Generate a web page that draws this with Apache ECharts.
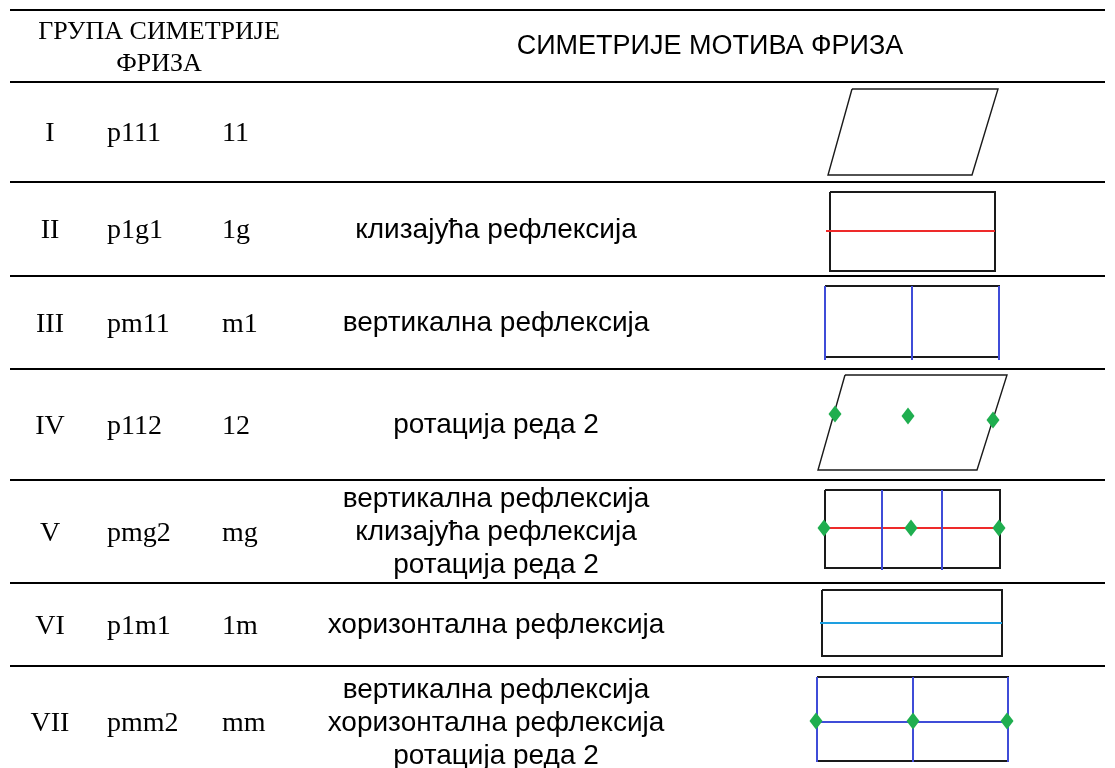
<!DOCTYPE html>
<html>
<head>
<meta charset="utf-8">
<script src="https://cdn.jsdelivr.net/npm/echarts@6/dist/echarts.min.js"></script>
<style>
  html, body { margin: 0; padding: 0; background: #ffffff; }
  #chart { width: 1115px; height: 768px; }
</style>
</head>
<body>
<div id="chart"></div>
<script>
// ---------- DATA ----------
const headerGroup = 'ГРУПА СИМЕТРИЈЕ\nФРИЗА';
const headerMotif = 'СИМЕТРИЈЕ МОТИВА ФРИЗА';
const romanNumerals = ['I', 'II', 'III', 'IV', 'V', 'VI', 'VII'];
const groupSymbols = ['p111', 'p1g1', 'pm11', 'p112', 'pmg2', 'p1m1', 'pmm2'];
const shortSymbols = ['11', '1g', 'm1', '12', 'mg', '1m', 'mm'];
const descriptions = [
  '',
  'клизајућа рефлексија',
  'вертикална рефлексија',
  'ротација реда 2',
  'вертикална рефлексија\nклизајућа рефлексија\nротација реда 2',
  'хоризонтална рефлексија',
  'вертикална рефлексија\nхоризонтална рефлексија\nротација реда 2'
];
// row boundaries of the table (chart units, top to bottom)
const rowBoundaries = [10, 82, 182, 276, 369, 480, 583, 666, 778];

// motif frames (outline of each motif cell, in chart units)
const motifFrames = [
  [[852, 89], [998, 89], [972, 175], [828, 175]],
  [[830, 192], [995, 192], [995, 271], [830, 271]],
  [[825, 286], [999, 286], [999, 357], [825, 357]],
  [[845, 375], [1007, 375], [977, 470], [818, 470]],
  [[825, 490], [1000, 490], [1000, 568], [825, 568]],
  [[822, 590], [1002, 590], [1002, 656], [822, 656]],
  [[817, 677], [1008, 677], [1008, 761], [817, 761]]
];
// glide reflection axes
const glideAxes = [
  [[826, 231], [995, 231]],
  [[825, 528], [1000, 528]]
];
// vertical / horizontal mirror lines
const mirrorLines = [
  [[825, 286], [825, 360]], [[912, 286], [912, 360]], [[999, 286], [999, 360]],
  [[882, 490], [882, 570]], [[942, 490], [942, 570]],
  [[817, 677], [817, 762]], [[913, 677], [913, 762]], [[1008, 677], [1008, 762]],
  [[817, 722], [1008, 722]]
];
const horizontalMirrorLight = [
  [[820, 623], [1002, 623]]
];
// centres of 2-fold rotation
const rotationCenters = [
  [835, 414], [908, 416], [993, 420],
  [824, 528], [911, 528], [999, 528],
  [816, 721], [913, 721], [1007, 721]
];

// ---------- LAYOUT / STYLE ----------
const SERIF = '"Liberation Serif", "Times New Roman", serif';
const SANS = '"Liberation Sans", Arial, sans-serif';
const colRoman = 50, colGroup = 107, colShort = 222, colDesc = 496, colHeadLeft = 159, colHeadRight = 710;
const ruleLeft = 10, ruleRight = 1105;

const rowCenters = [];
for (let i = 0; i < rowBoundaries.length - 1; i++) {
  rowCenters.push((rowBoundaries[i] + rowBoundaries[i + 1]) / 2);
}

// text cells
const textCells = [];
textCells.push({ x: colHeadLeft, y: rowCenters[0] + 2, text: headerGroup, font: SERIF, size: 26, align: 'center', lh: 32 });
textCells.push({ x: colHeadRight, y: rowCenters[0] + 1, text: headerMotif, font: SANS, size: 27, align: 'center', lh: 32 });
for (let i = 0; i < romanNumerals.length; i++) {
  const y = rowCenters[i + 1] + 2;
  textCells.push({ x: colRoman, y: y, text: romanNumerals[i], font: SERIF, size: 28, align: 'center', lh: 33 });
  textCells.push({ x: colGroup, y: y, text: groupSymbols[i], font: SERIF, size: 28, align: 'left', lh: 33 });
  textCells.push({ x: colShort, y: y, text: shortSymbols[i], font: SERIF, size: 28, align: 'left', lh: 33 });
  if (descriptions[i]) {
    textCells.push({ x: colDesc, y: rowCenters[i + 1] + 1, text: descriptions[i], font: SANS, size: 28, align: 'center', lh: 33 });
  }
}

// polylines
const polylines = [];
const ruleYs = rowBoundaries.slice(0, rowBoundaries.length - 1);
ruleYs.forEach(y => polylines.push({ pts: [[ruleLeft, y], [ruleRight, y]], color: '#000000', width: 2 }));
motifFrames.forEach((f, i) => polylines.push({ pts: f.concat([f[0]]), color: '#1a1a1a', width: (i === 0 || i === 3) ? 1.4 : 2 }));
glideAxes.forEach(l => polylines.push({ pts: l, color: '#ee2a2a', width: 2 }));
mirrorLines.forEach(l => polylines.push({ pts: l, color: '#3f4cd8', width: 2 }));
horizontalMirrorLight.forEach(l => polylines.push({ pts: l, color: '#1e9fe0', width: 2 }));

const chart = echarts.init(document.getElementById('chart'), null, { renderer: 'canvas' });
chart.setOption({
  animation: false,
  backgroundColor: '#ffffff',
  grid: { left: 0, right: 0, top: 0, bottom: 0 },
  xAxis: { type: 'value', min: 0, max: 1115, show: false },
  yAxis: { type: 'value', min: 0, max: 768, inverse: true, show: false },
  series: [
    {
      type: 'custom',
      coordinateSystem: 'cartesian2d',
      clip: false,
      silent: true,
      data: polylines.map(p => p.pts[0]),
      renderItem: function (params, api) {
        const p = polylines[params.dataIndex];
        const pts = p.pts.map(pt => api.coord(pt));
        return {
          type: 'polyline',
          shape: { points: pts },
          style: { stroke: p.color, lineWidth: p.width, fill: null, lineJoin: 'miter' }
        };
      }
    },
    {
      type: 'scatter',
      symbol: 'diamond',
      symbolSize: [13, 17],
      silent: true,
      itemStyle: { color: '#1fae4f', opacity: 1 },
      data: rotationCenters,
      z: 5
    },
    {
      type: 'custom',
      coordinateSystem: 'cartesian2d',
      clip: false,
      silent: true,
      data: textCells.map(t => [t.x, t.y]),
      renderItem: function (params, api) {
        const t = textCells[params.dataIndex];
        const c = api.coord([t.x, t.y]);
        return {
          type: 'text',
          x: c[0],
          y: c[1],
          style: {
            text: t.text,
            fill: '#000000',
            fontFamily: t.font,
            fontSize: t.size,
            align: t.align,
            verticalAlign: 'middle',
            lineHeight: t.lh
          }
        };
      }
    }
  ]
});
</script>
</body>
</html>
